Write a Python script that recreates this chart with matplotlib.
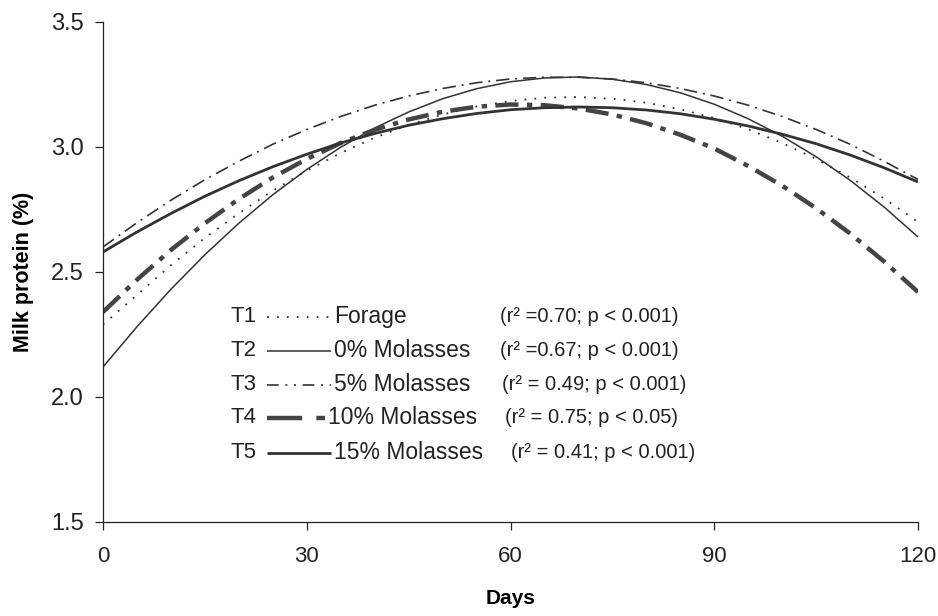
import matplotlib
matplotlib.use('Agg')
import matplotlib.pyplot as plt

# days sampled along the fitted curves
days = [0, 5, 10, 15, 20, 25, 30, 35, 40, 45, 50, 55, 60,
        65, 70, 75, 80, 85, 90, 95, 100, 105, 110, 115, 120]

# milk protein (%) for each treatment
t1_forage = [2.290, 2.408, 2.527, 2.636, 2.735, 2.825, 2.905, 2.976, 3.037, 3.088, 3.130,
             3.162, 3.184, 3.197, 3.200, 3.193, 3.177, 3.151, 3.116, 3.071, 3.016, 2.952,
             2.878, 2.794, 2.700]
t2_mol0 = [2.120, 2.281, 2.431, 2.569, 2.695, 2.809, 2.910, 2.999, 3.076, 3.140, 3.193,
           3.233, 3.261, 3.276, 3.280, 3.271, 3.250, 3.217, 3.171, 3.113, 3.043, 2.961,
           2.867, 2.760, 2.640]
t3_mol5 = [2.600, 2.697, 2.787, 2.869, 2.943, 3.011, 3.070, 3.122, 3.167, 3.204, 3.234,
           3.257, 3.272, 3.279, 3.279, 3.272, 3.257, 3.234, 3.204, 3.167, 3.122, 3.070,
           3.011, 2.943, 2.870]
t4_mol10 = [2.340, 2.469, 2.588, 2.695, 2.792, 2.878, 2.952, 3.016, 3.069, 3.110, 3.141,
            3.161, 3.170, 3.167, 3.154, 3.130, 3.095, 3.049, 2.994, 2.924, 2.845, 2.755,
            2.654, 2.542, 2.420]
t5_mol15 = [2.580, 2.660, 2.734, 2.803, 2.865, 2.921, 2.971, 3.016, 3.054, 3.087, 3.113,
            3.134, 3.149, 3.157, 3.160, 3.157, 3.148, 3.133, 3.111, 3.084, 3.051, 3.013,
            2.968, 2.917, 2.860]

codes = ["T1", "T2", "T3", "T4", "T5"]
labels = ["Forage", "0% Molasses", "5% Molasses", "10% Molasses", "15% Molasses"]
stats = ["(r² =0.70; p < 0.001)", "(r² =0.67; p < 0.001)", "(r² = 0.49; p < 0.001)",
         "(r² = 0.75; p < 0.05)", "(r² = 0.41; p < 0.001)"]

x_ticks = [0, 30, 60, 90, 120]
y_ticks = [1.5, 2.0, 2.5, 3.0, 3.5]

plt.rcParams['font.family'] = ['Liberation Sans', 'DejaVu Sans']

STYLES = [
    dict(color="#333333", lw=1.3, dashes=(1.0, 4.5)),
    dict(color="#333333", lw=1.1, linestyle="solid"),
    dict(color="#333333", lw=1.2, dashes=(8, 3.5, 1.2, 3.5)),
    dict(color="#444444", lw=3.2, dashes=(5.2, 1.9, 1.2, 1.9)),
    dict(color="#333333", lw=2.0, linestyle="solid"),
]
# legend samples: same lines, T3/T4 patterns as drawn in the key
KEY_STYLES = list(STYLES)
KEY_STYLES[2] = dict(color="#333333", lw=1.2, dashes=(7, 4, 1.2, 4, 1.2, 4))
KEY_STYLES[3] = dict(color="#444444", lw=3.2, dashes=(7.9, 3.2, 2.0, 6))
series = [t1_forage, t2_mol0, t3_mol5, t4_mol10, t5_mol15]

fig = plt.figure(figsize=(9.38, 6.16), dpi=100)
ax = fig.add_axes([0.1098, 0.1526, 0.8689, 0.8117])

for vals, st in zip(series, STYLES):
    ax.plot(days, vals, solid_capstyle="butt", dash_capstyle="butt", **st)

ax.set_xlim(0, 120)
ax.set_ylim(1.5, 3.5)
ax.set_xticks(x_ticks)
ax.set_yticks(y_ticks)
ax.set_yticklabels([f"{v:.1f}" for v in y_ticks], fontsize=17)
ax.set_xticklabels([str(v) for v in x_ticks], fontsize=16)
ax.tick_params(axis="both", direction="out", length=6, width=0.9, colors="#222222")
ax.tick_params(axis="x", pad=11)
ax.tick_params(axis="y", pad=8)
for side in ("top", "right"):
    ax.spines[side].set_visible(False)
for side in ("left", "bottom"):
    ax.spines[side].set_linewidth(0.9)
    ax.spines[side].set_color("#222222")

ax.set_xlabel("Days", fontsize=15, fontweight="bold", labelpad=16)
ax.set_ylabel("Milk protein (%)", fontsize=15.5, fontweight="bold", labelpad=12)

# hand-drawn legend block inside the axes
row_y = [0.410, 0.342, 0.274, 0.208, 0.138]
stat_x = [0.487, 0.487, 0.490, 0.493, 0.500]
for i in range(5):
    y = row_y[i]
    ax.text(0.156, y, codes[i], transform=ax.transAxes, fontsize=16,
            ha="left", va="center", color="#222222")
    x_end = 0.273 if i == 3 else 0.280
    ax.plot([0.201, x_end], [y, y], transform=ax.transAxes,
            solid_capstyle="butt", dash_capstyle="butt", **KEY_STYLES[i])
    ax.text(x_end + 0.003, y, labels[i], transform=ax.transAxes, fontsize=16.5,
            ha="left", va="center", color="#222222")
    ax.text(stat_x[i], y, stats[i], transform=ax.transAxes, fontsize=14.5,
            ha="left", va="center", color="#222222")

plt.savefig("out.png", dpi=100)
plt.close()
